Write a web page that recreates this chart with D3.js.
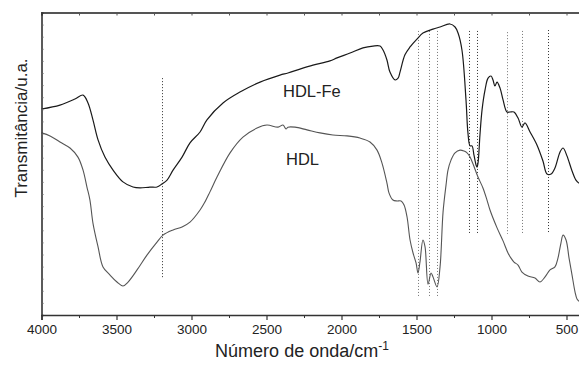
<!DOCTYPE html>
<html>
<head>
<meta charset="utf-8">
<script src="https://cdn.jsdelivr.net/npm/d3@7"></script>
<style>
  body { margin: 0; background: #fff; }
  svg { display: block; font-family: "Liberation Sans", Arial, sans-serif; }
</style>
</head>
<body>
<div id="chart"></div>
<script>
// wavenumber (cm-1) of each sampled point and transmittance (u.a.)
const hdlFeWn = [4000, 3877, 3777, 3723, 3690, 3657, 3623, 3577, 3523, 3457, 3390, 3343, 3277, 3230, 3197, 3163, 3123, 3063, 3010, 2943,
  2897, 2790, 2677, 2543, 2410, 2357, 2277, 2190, 2077, 2030, 1943, 1857, 1790, 1743, 1723, 1697, 1677, 1643, 1623, 1610,
  1577, 1543, 1497, 1457, 1390, 1343, 1277, 1243, 1223, 1197, 1170, 1157, 1143, 1130, 1117, 1103, 1097, 1090, 1077, 1063,
  1043, 1023, 1003, 990, 977, 963, 943, 923, 897, 877, 850, 823, 797, 777, 743, 697, 657, 630, 603, 577,
  543, 523, 497, 463, 437, 417, 400];
const hdlFeT = [68.1, 69.4, 71.4, 72.7, 70.1, 64.5, 57.9, 52.2, 47.9, 44.0, 42.3, 42.0, 42.3, 42.3, 43.3, 44.6, 47.9, 52.2, 56.9, 60.5,
  64.5, 70.1, 73.7, 77.0, 79.3, 80.0, 81.3, 82.6, 84.0, 85.0, 86.6, 88.3, 88.9, 88.9, 87.6, 84.3, 80.3, 77.7, 78.3, 80.3,
  86.0, 88.6, 91.2, 93.2, 94.5, 95.2, 96.2, 95.2, 93.2, 87.6, 71.1, 60.2, 55.9, 55.9, 52.9, 49.6, 48.9, 50.2, 59.5, 67.8,
  74.4, 78.3, 79.0, 77.7, 75.7, 77.0, 75.0, 71.1, 67.1, 67.1, 67.1, 65.1, 62.1, 63.5, 60.5, 56.2, 50.9, 46.6, 46.6, 48.6,
  53.9, 55.2, 52.6, 47.6, 44.6, 43.6, 43.3];

const hdlWn = [4000, 3943, 3877, 3810, 3757, 3723, 3697, 3677, 3657, 3623, 3590, 3543, 3497, 3457, 3423, 3363, 3297, 3230, 3190, 3123,
  3063, 3010, 2943, 2910, 2877, 2830, 2743, 2657, 2563, 2497, 2423, 2390, 2370, 2357, 2310, 2230, 2143, 2057, 1963, 1877,
  1810, 1763, 1730, 1697, 1683, 1657, 1630, 1603, 1583, 1563, 1543, 1523, 1503, 1490, 1477, 1457, 1443, 1423, 1403, 1390,
  1363, 1343, 1323, 1303, 1290, 1270, 1243, 1210, 1183, 1163, 1143, 1123, 1090, 1057, 1030, 1010, 963, 923, 890, 870,
  850, 823, 797, 757, 710, 677, 643, 610, 577, 557, 537, 523, 503, 483, 463, 443, 430, 417, 400];
const hdlT = [60.2, 59.2, 57.2, 55.2, 52.2, 47.9, 42.3, 38.0, 30.4, 22.5, 15.9, 13.2, 10.9, 9.6, 10.9, 14.9, 19.8, 24.1, 26.4, 28.1,
  29.1, 30.7, 34.7, 37.4, 40.7, 45.6, 53.6, 58.8, 61.8, 62.8, 62.1, 62.8, 61.5, 62.1, 62.1, 61.2, 60.2, 59.5, 59.2, 58.5,
  57.2, 54.5, 50.2, 43.6, 40.3, 38.0, 37.7, 37.7, 36.4, 32.4, 24.8, 20.5, 17.2, 13.9, 17.5, 24.8, 22.5, 10.2, 13.9, 12.6,
  9.3, 15.9, 34.0, 43.0, 47.9, 51.2, 53.6, 54.5, 54.2, 53.6, 52.2, 49.9, 45.6, 42.0, 38.0, 34.7, 28.8, 24.5, 20.5, 18.8,
  17.5, 16.5, 14.2, 12.9, 12.2, 10.9, 12.6, 14.9, 15.9, 18.8, 23.8, 26.4, 24.8, 18.8, 13.2, 7.6, 5.3, 4.6, 4.0];

// dotted band markers: wavenumber, top and bottom in u.a.
const bandWn = [3200, 1490, 1420, 1365, 1150, 1100, 900, 795, 625];
const bandTop = [78.3, 93.9, 93.9, 93.9, 93.9, 93.9, 93.5, 93.9, 94.2];
const bandBottom = [11.9, 6.0, 6.0, 6.0, 27.1, 27.1, 26.8, 27.1, 27.4];
const bandDark = [true, false, false, false, true, true, false, false, true];

const xTicks = [4000, 3500, 3000, 2500, 2000, 1500, 1000, 500];

const W = 579, H = 366;
const margin = {left: 41.5, top: 12.5};
const plotW = 540, plotH = 302.5;

const svg = d3.select('#chart').append('svg')
  .attr('width', W).attr('height', H);

const x = d3.scaleLinear().domain([4000, 400]).range([margin.left, margin.left + plotW]);
const y = d3.scaleLinear().domain([0, 100]).range([margin.top + plotH, margin.top]);

// -- dotted lines
bandWn.forEach((wn, i) => {
  svg.append('line')
    .attr('x1', Math.round(x(wn)) + 0.5).attr('x2', Math.round(x(wn)) + 0.5)
    .attr('y1', y(bandTop[i])).attr('y2', y(bandBottom[i]))
    .attr('stroke', bandDark[i] ? '#333' : '#777')
    .attr('stroke-width', 1)
    .attr('stroke-dasharray', '1,2');
});

// -- curves
const line = d3.line()
  .x(d => x(d[0]))
  .y(d => y(d[1]))
  .curve(d3.curveCatmullRom.alpha(0.5));

svg.append('path')
  .datum(hdlWn.map((w, i) => [w, hdlT[i]]))
  .attr('d', line)
  .attr('fill', 'none')
  .attr('stroke', '#555')
  .attr('stroke-width', 1.1);

svg.append('path')
  .datum(hdlFeWn.map((w, i) => [w, hdlFeT[i]]))
  .attr('d', line)
  .attr('fill', 'none')
  .attr('stroke', '#1a1a1a')
  .attr('stroke-width', 1.2);

// -- axes
const minor = d3.range(4000, 399, -250);

const xAxis = svg.append('g')
  .attr('transform', `translate(0,${margin.top + plotH})`)
  .call(d3.axisBottom(x).tickValues(xTicks).tickSize(5).tickPadding(4).tickFormat(d3.format('d')));
xAxis.select('.domain').attr('stroke', '#333').attr('stroke-width', 1.6);
xAxis.selectAll('.tick line').attr('stroke', '#333').attr('stroke-width', 1.2);
xAxis.selectAll('.tick text').attr('font-size', 13.5).attr('fill', '#222')
  .attr('font-family', '"Liberation Sans", Arial, sans-serif');

svg.append('g')
  .attr('transform', `translate(0,${margin.top + plotH})`)
  .call(d3.axisBottom(x).tickValues(minor.filter(v => v % 500 !== 0)).tickSize(3).tickFormat(''))
  .call(g => g.select('.domain').remove())
  .selectAll('.tick line').attr('stroke', '#333');

const topAxis = svg.append('g')
  .attr('transform', `translate(0,${margin.top})`)
  .call(d3.axisBottom(x).tickValues(minor).tickSize(3).tickFormat(''));
topAxis.select('.domain').attr('stroke', '#555').attr('stroke-width', 2);
topAxis.selectAll('.tick line').attr('stroke', '#555');

const yAxis = svg.append('g')
  .attr('transform', `translate(${margin.left},0)`)
  .call(d3.axisRight(y).tickValues(d3.range(4, 100, 4)).tickSize(2).tickFormat(''));
yAxis.select('.domain').attr('stroke', '#333').attr('stroke-width', 1.6);
yAxis.selectAll('.tick line').attr('stroke', '#666');

// -- labels
svg.append('text')
  .attr('x', x(2390)).attr('y', y(72.1))
  .attr('font-size', 16.5).attr('fill', '#222')
  .text('HDL-Fe');

svg.append('text')
  .attr('x', x(2370)).attr('y', y(49.6))
  .attr('font-size', 16.5).attr('fill', '#222')
  .text('HDL');

const xt = svg.append('text')
  .attr('x', 302).attr('y', 357)
  .attr('text-anchor', 'middle')
  .attr('font-size', 18).attr('fill', '#222');
xt.append('tspan').text('Número de onda/cm');
xt.append('tspan').attr('font-size', 12).attr('dy', -7).text('-1');

svg.append('text')
  .attr('transform', 'translate(27,128) rotate(-90)')
  .attr('text-anchor', 'middle')
  .attr('font-size', 17).attr('fill', '#222')
  .text('Transmitância/u.a.');
</script>
</body>
</html>
